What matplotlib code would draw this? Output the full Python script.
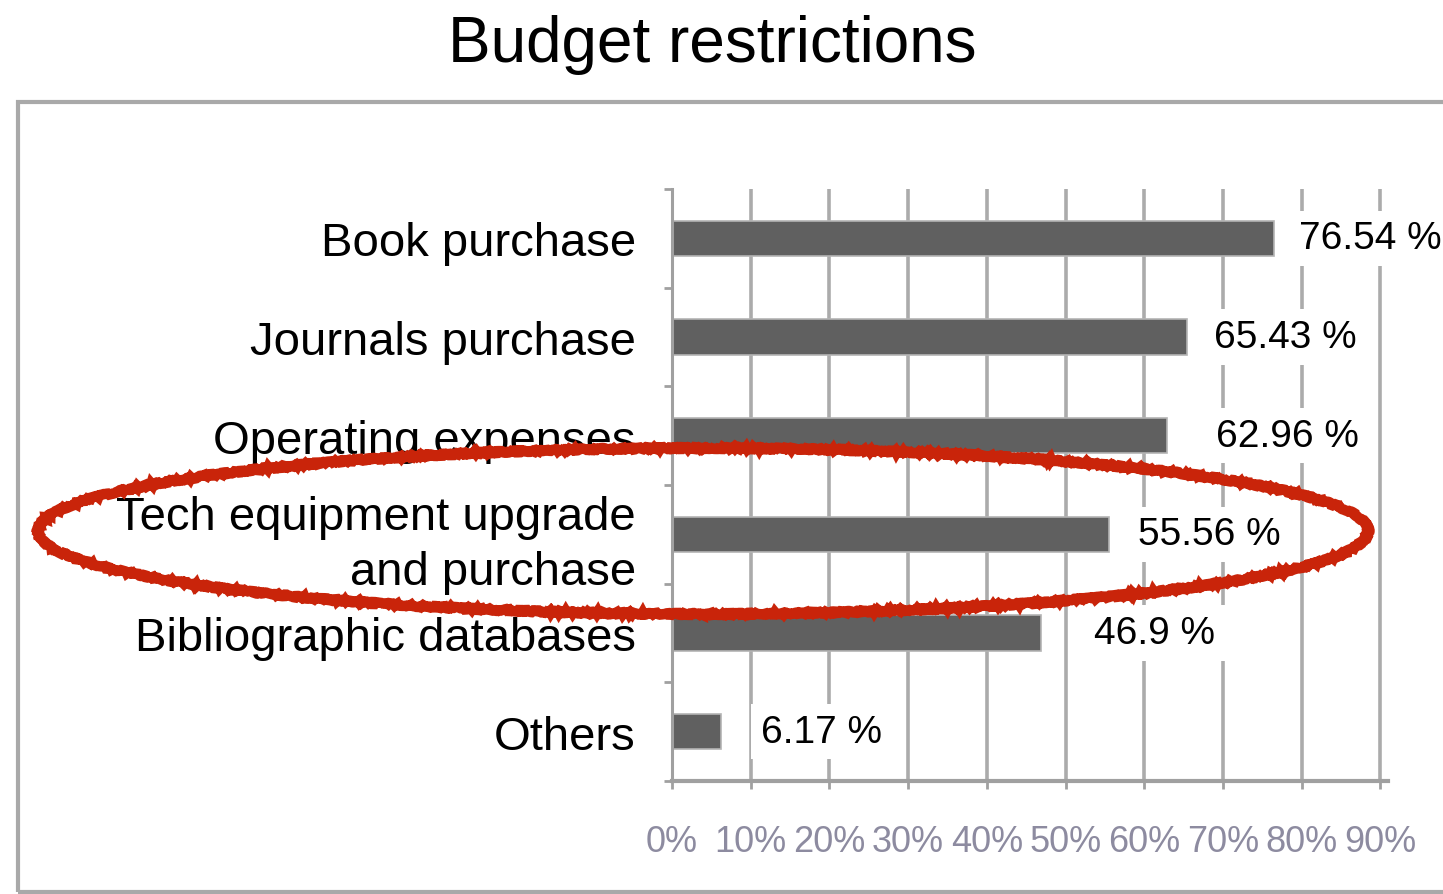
import matplotlib
matplotlib.use("Agg")
import matplotlib.pyplot as plt
from matplotlib.patches import Ellipse, Rectangle
import numpy as np

#_____________________________DATA_______________________________________#
categories = ["Book purchase", "Journals purchase", "Operating expenses",
              "Tech equipment upgrade\nand purchase", "Bibliographic databases", "Others"]
shares = [76.54, 65.43, 62.96, 55.56, 46.9, 6.17]
value_labels = ["76.54 %", "65.43 %", "62.96 %", "55.56 %", "46.9 %", "6.17 %"]
x_ticks = [0, 10, 20, 30, 40, 50, 60, 70, 80, 90]
x_tick_labels = ["0%", "10%", "20%", "30%", "40%", "50%", "60%", "70%", "80%", "90%"]

# gap between bar end and its value label, in pixels
label_gap_px = [25, 27, 49, 29, 53, 40]

#_____________________________STYLE_______________________________________#
plt.rcParams['font.family'] = ['Liberation Sans', 'DejaVu Sans']
W, H = 1443, 895
bar_color = '#606060'
grid_color = '#ababab'
axis_color = '#a0a0a0'

fig = plt.figure(figsize=(W / 100, H / 100), dpi=100)

# outer grey frame around the chart body
frame = Rectangle((18 / W, 2 / H), 1.2, (893 - 103) / H, transform=fig.transFigure,
                  fill=False, edgecolor='#a9a9a9', linewidth=3, clip_on=False)
fig.add_artist(frame)

fig.text(712 / W, 1 - 45 / H, "Budget restrictions", ha='center', va='center',
         fontsize=46, color='black')

# plot area: 0% at x=672 px, 10% per ~78.7 px
x0, x_end = 672, 672 + 91 * 7.87
y_top, y_bot = 190, 782
ax = fig.add_axes([x0 / W, 1 - y_bot / H, (x_end - x0) / W, (y_bot - y_top) / H])

ypos = np.arange(len(categories))
ax.barh(ypos, shares, height=0.355, color=bar_color, edgecolor='#b4b4b4',
        linewidth=1.2, zorder=2)

ax.set_xlim(0, 91)
ax.set_ylim(len(categories) - 0.5, -0.5)

ax.set_axisbelow(True)
ax.set_xticks(x_ticks)
ax.set_xticklabels(x_tick_labels)
ax.xaxis.grid(True, color=grid_color, linewidth=2.6)
ax.tick_params(axis='x', direction='out', length=6, width=2, color=axis_color,
               pad=25, labelsize=26, labelcolor='#8d8ba0')

ax.set_yticks(ypos)
ax.set_yticklabels(categories)
ax.set_yticks(np.arange(-0.5, len(categories)), minor=True)
ax.tick_params(axis='y', which='major', length=0, pad=26, labelsize=34)
ax.tick_params(axis='y', which='minor', direction='out', length=6, width=2, color=axis_color)
for lab in ax.get_yticklabels():
    lab.set_linespacing(1.3)

for side in ['top', 'right']:
    ax.spines[side].set_visible(False)
ax.spines['left'].set_color(axis_color)
ax.spines['left'].set_linewidth(2.2)
ax.spines['bottom'].set_color(axis_color)
ax.spines['bottom'].set_linewidth(3)

# value labels sit on white boxes that cut through the grid
for i, (v, txt) in enumerate(zip(shares, value_labels)):
    ax.annotate(txt, xy=(v, i), xytext=(label_gap_px[i], 0), textcoords='offset pixels',
                ha='left', va='center', fontsize=28, color='black', zorder=4,
                bbox=dict(facecolor='white', edgecolor='none', pad=7))

# hand drawn red ring around the tech equipment row
for dw, dh, lw in [(0, 0, 7.5), (8, -4, 2.5), (-8, 6, 2.0)]:
    ring = Ellipse((703 / W, 1 - 532 / H), (1330 + dw) / W, (166 + dh) / H,
                   transform=fig.transFigure, fill=False, edgecolor='#c9240a',
                   linewidth=lw, zorder=10)
    ring.set_sketch_params(scale=1.0, length=6, randomness=20)
    fig.add_artist(ring)

fig.savefig("out.png", dpi=100, facecolor='white')
